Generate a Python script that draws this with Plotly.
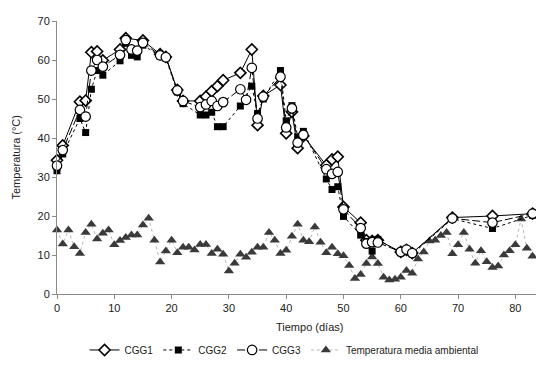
import plotly.graph_objects as go

# ---- data ----
amb_days = list(range(0, 84))
amb_temp = [16.4, 12.8, 16.4, 12.1, 10.4, 15.8, 17.9, 14.1, 15.6, 16.4,
            12.6, 13.7, 14.5, 15.1, 15.1, 17.7, 19.4, 13.8, 8.2, 11.0,
            13.8, 10.6, 12.0, 12.0, 11.3, 12.7, 12.7, 10.4, 11.5, 10.2,
            5.9, 7.9, 10.2, 9.4, 10.7, 12.0, 12.0, 15.8, 13.8, 10.4,
            11.2, 14.8, 17.9, 13.8, 13.4, 17.2, 13.3, 10.6, 12.0, 10.3,
            9.8, 7.3, 4.0, 5.0, 7.8, 9.5, 7.8, 4.3, 3.6, 3.8,
            4.3, 6.0, 5.3, 9.0, 10.8, 13.6, 13.8, 15.0, 15.8, 10.3,
            12.6, 15.8, 11.5, 7.9, 11.1, 8.3, 6.8, 7.2, 10.0, 11.1,
            12.6, 19.2, 11.7, 9.7]

cgg1_days = [0, 1, 4, 5, 6, 7, 8, 11, 12, 15, 18, 19, 21, 22, 25, 26, 27, 28, 29, 32,
             34, 35, 36, 39, 40, 41, 42, 43, 47, 48, 49, 50, 53, 54, 55, 56, 60, 61, 62,
             69, 76, 83]
cgg1_temp = [34.3, 38.1, 49.3, 49.6, 62.0, 62.2, 59.9, 62.7, 65.6, 65.0, 61.5, 60.8, 52.3,
             49.5, 49.5, 50.6, 52.0, 53.3, 54.8, 56.7, 62.7, 43.3, 50.8, 53.6, 41.2, 46.7,
             37.4, 40.5, 33.0, 34.5, 35.2, 22.3, 18.3, 13.8, 13.6, 13.8, 10.8, 11.3, 10.5,
             19.6, 20.0, 20.6]

cgg2_days = [0, 1, 4, 5, 6, 7, 8, 11, 12, 13, 14, 15, 18, 19, 21, 22, 25, 26, 27, 28, 29,
             32, 34, 35, 36, 39, 40, 41, 42, 43, 47, 48, 49, 50, 53, 54, 55, 56, 60, 61, 62,
             69, 76, 83]
cgg2_temp = [31.6, 35.9, 45.0, 41.4, 52.5, 57.3, 56.1, 59.8, 64.3, 61.2, 60.8, 63.8, 61.0,
             60.5, 51.8, 48.8, 45.9, 45.9, 46.6, 42.9, 42.9, 48.2, 53.3, 46.3, 50.0, 57.3,
             44.4, 48.3, 40.3, 41.7, 29.5, 26.8, 27.5, 19.9, 15.1, 13.5, 11.0, 14.0, 10.6,
             11.0, 10.2, 19.3, 16.8, 20.2]

cgg3_days = [0, 1, 4, 5, 6, 7, 8, 11, 12, 13, 14, 15, 18, 19, 21, 22, 25, 26, 27, 28, 29,
             32, 33, 34, 35, 36, 39, 40, 41, 42, 43, 47, 48, 49, 50, 53, 54, 55, 56, 60, 61,
             62, 69, 76, 83]
cgg3_temp = [32.9, 36.9, 47.2, 45.5, 57.3, 60.0, 58.3, 61.3, 65.1, 62.7, 62.4, 64.4, 61.2,
             60.7, 52.2, 49.5, 47.9, 48.6, 49.5, 48.2, 49.2, 52.5, 49.8, 58.0, 45.0, 50.6,
             55.7, 42.7, 47.6, 38.8, 40.8, 32.0, 30.8, 31.3, 21.7, 16.9, 12.9, 13.3, 13.2,
             10.8, 11.4, 10.5, 19.4, 18.3, 20.6]

x_ticks = [0, 10, 20, 30, 40, 50, 60, 70, 80]
y_ticks = [0, 10, 20, 30, 40, 50, 60, 70]

FONT = "Liberation Sans, Arial, sans-serif"

fig = go.Figure()

fig.add_trace(go.Scatter(
    x=amb_days, y=amb_temp, name="Temperatura media ambiental", mode="lines+markers",
    line=dict(color="#b5b5b5", width=1, dash="dot"),
    marker=dict(symbol="triangle-up", size=9, color="#3a3a3a",
                line=dict(width=0)),
    cliponaxis=False, legendrank=4))

fig.add_trace(go.Scatter(
    x=cgg1_days, y=cgg1_temp, name="CGG1", mode="lines+markers",
    line=dict(color="black", width=1),
    marker=dict(symbol="diamond", size=8.5, color="white",
                line=dict(color="black", width=1.6)),
    cliponaxis=False, legendrank=1))

fig.add_trace(go.Scatter(
    x=cgg2_days, y=cgg2_temp, name="CGG2", mode="lines+markers",
    line=dict(color="black", width=1, dash="3px,3px"),
    marker=dict(symbol="square", size=7, color="black",
                line=dict(color="black", width=0)),
    cliponaxis=False, legendrank=2))

fig.add_trace(go.Scatter(
    x=cgg3_days, y=cgg3_temp, name="CGG3", mode="lines+markers",
    line=dict(color="black", width=1, dash="8px,3px"),
    marker=dict(symbol="circle", size=9.5, color="white",
                line=dict(color="black", width=1.2)),
    cliponaxis=False, legendrank=3))

axis_common = dict(
    showgrid=False, zeroline=False, showline=True, linecolor="#8a8a8a", linewidth=1,
    ticks="outside", ticklen=4, tickcolor="#8a8a8a",
    tickfont=dict(family=FONT, size=11, color="#222"),
)

fig.update_xaxes(range=[0, 83.6], tickvals=x_ticks, **axis_common)
fig.update_yaxes(range=[0, 70], tickvals=y_ticks, **axis_common)

fig.update_layout(
    width=536, height=365,
    margin=dict(l=57, r=0, t=21, b=71),
    paper_bgcolor="white", plot_bgcolor="white",
    font=dict(family=FONT, size=11, color="#222"),
    showlegend=True,
    legend=dict(orientation="h", x=0.474, xanchor="center", y=-0.205, yanchor="middle",
                font=dict(family=FONT, size=10, color="#222"),
                bgcolor="rgba(0,0,0,0)", itemwidth=30, tracegroupgap=0),
    annotations=[
        dict(text="Tiempo (días)", xref="paper", yref="paper", x=0.528, y=-0.121,
             xanchor="center", yanchor="middle", showarrow=False,
             font=dict(family=FONT, size=11, color="#222")),
        dict(text="Temperatura (°C)", xref="paper", yref="paper", x=-0.0856, y=0.5,
             xanchor="center", yanchor="middle", textangle=-90, showarrow=False,
             font=dict(family=FONT, size=11, color="#222")),
    ],
)

fig.write_html("out.html", config={"displayModeBar": False},
               post_script="document.body.style.margin='0px';")
